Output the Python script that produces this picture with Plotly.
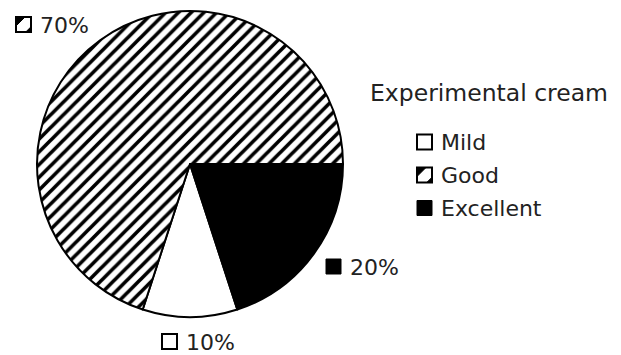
import plotly.graph_objects as go

# Response categories and their shares (%)
labels = ["Mild", "Good", "Excellent"]
values = [10, 70, 20]
legend_title = "Experimental cream"

W, H = 621, 355
FONT = "DejaVu Sans"
TXT = "#222222"


def px(x):
    return x / W


def py(y):
    return 1 - y / H


fig = go.Figure()

fig.add_trace(go.Pie(
    labels=labels,
    values=values,
    sort=False,
    direction="clockwise",
    rotation=162,
    textinfo="none",
    hoverinfo="label+percent",
    showlegend=False,
    marker=dict(
        colors=["white", "white", "black"],
        line=dict(color="black", width=2),
        pattern=dict(
            shape=["", "/", ""],
            fgcolor="black",
            bgcolor="white",
            size=9,
            solidity=0.4,
        ),
    ),
    domain=dict(x=[px(37), px(343)], y=[py(318), py(10)]),
))

shapes = []
annotations = []


def swatch(x0, y0, kind, s=15):
    """Small square key: 'open', 'solid' or 'hatch'."""
    x1, y1 = x0 + s, y0 + s
    if kind == "solid":
        shapes.append(dict(type="rect", xref="paper", yref="paper",
                           x0=px(x0), x1=px(x1), y0=py(y1), y1=py(y0),
                           fillcolor="black", line=dict(color="black", width=1)))
        return
    shapes.append(dict(type="rect", xref="paper", yref="paper",
                       x0=px(x0), x1=px(x1), y0=py(y1), y1=py(y0),
                       fillcolor="white", line=dict(color="black", width=2)))
    if kind == "hatch":
        a = 0.6 * s
        b = 0.35 * s
        p1 = (f"M {px(x0)},{py(y0)} L {px(x0 + a)},{py(y0)} "
              f"L {px(x0)},{py(y0 + a)} Z")
        p2 = (f"M {px(x1)},{py(y1)} L {px(x1 - b)},{py(y1)} "
              f"L {px(x1)},{py(y1 - b)} Z")
        for p in (p1, p2):
            shapes.append(dict(type="path", xref="paper", yref="paper", path=p,
                               fillcolor="black", line=dict(color="black", width=1)))


def text(x, y, s, size):
    annotations.append(dict(x=px(x), y=py(y), xref="paper", yref="paper",
                            text=s, showarrow=False, xanchor="left",
                            yanchor="middle",
                            font=dict(family=FONT, size=size, color=TXT)))


kinds = {"Mild": "open", "Good": "hatch", "Excellent": "solid"}

# Percentage labels around the pie
label_pos = {"Good": (16, 17), "Excellent": (326, 259), "Mild": (162, 334)}
for lab, val in zip(labels, values):
    bx, by = label_pos[lab]
    swatch(bx, by, kinds[lab])
    text(bx + 22, by + 8, f"{val}%", 22)

# Legend block
text(368, 93, legend_title, 23.5)
for i, lab in enumerate(labels):
    cy = 142 + i * 33
    swatch(417, cy - 7.5, kinds[lab])
    text(439, cy, lab, 22)

fig.update_layout(
    width=W, height=H,
    margin=dict(l=0, r=0, t=0, b=0),
    paper_bgcolor="white",
    plot_bgcolor="white",
    shapes=shapes,
    annotations=annotations,
)

fig.write_html("out.html")
